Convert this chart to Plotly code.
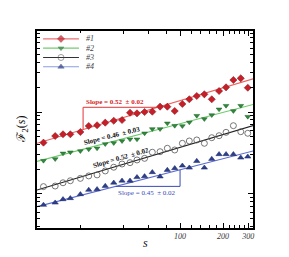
import numpy as np
import plotly.graph_objects as go

# ---------------- data ----------------
s = [11.1, 13.4, 15.2, 17.1, 20.1, 23.0, 26.3, 30.0, 34.4, 39.3, 44.7, 50.0, 56.5,
     64.0, 72.5, 81.5, 91.8, 103.8, 116.1, 130.9, 147.9, 166.6, 187.4, 209.7,
     236.0, 265.7, 297.5]

f_1 = [4.23, 5.09, 5.35, 5.35, 5.70, 6.75, 6.89, 7.41, 7.83, 7.98, 9.79, 9.64, 10.0,
       10.09, 11.61, 11.61, 10.28, 12.53, 14.29, 15.67, 16.44, 14.29, 18.03, 20.0,
       24.55, 25.76, 19.77]
f_2 = [2.55, 2.67, 3.13, 3.23, 3.34, 3.51, 3.61, 4.07, 4.19, 4.43, 4.65, 4.65, 5.50,
       6.21, 6.21, 7.28, 6.81, 6.75, 7.48, 9.02, 8.22, 9.18, 10.79, 11.94,
       10.30, 11.94, 8.77]
f_3 = [1.23, 1.25, 1.37, 1.45, 1.55, 1.66, 1.71, 1.91, 2.12, 2.32, 2.41, 2.60, 2.72,
       3.23, 3.28, 3.61, 3.44, 4.15, 4.43, 4.56, 4.15, 4.86, 5.14, 5.65,
       6.81, 5.75, 5.50]
f_4 = [0.735, 0.783, 0.861, 0.887, 0.991, 1.12, 1.14, 1.25, 1.37, 1.45, 1.45, 1.60, 1.64,
       1.84, 1.63, 1.96, 2.06, 2.21, 2.09, 2.52, 2.09, 2.67, 3.05, 3.05,
       3.05, 2.77, 2.85]

names = ["#1", "#2", "#3", "#4"]
slopes = [0.52, 0.46, 0.52, 0.45]
intercepts = [0.098, -0.063, -0.471, -0.605]   # log10 F at s = 1
slope_text = ["Slope = 0.52  \u00b1 0.02", "Slope = 0.46  \u00b1 0.03",
              "Slope = 0.52  \u00b1 0.02", "Slope = 0.45  \u00b1 0.02"]

x_tickvals = [100, 200, 300]
x_ticktext = ["100", "200", "300"]
x_minor = [20, 40, 60, 80, 120, 140, 160, 180, 220, 240, 260, 280]
y_tickvals = [1, 10]
y_minor = [0.4, 0.5, 0.6, 0.7, 0.8, 0.9, 2, 3, 4, 5, 6, 7, 8, 9,
           20, 30, 40, 50, 60, 70, 80, 90]

# ---------------- styles ----------------
series = [f_1, f_2, f_3, f_4]
line_colors = ["#ef5f5f", "#6acb6a", "#222222", "#5b6bd2"]
legend_line_colors = ["#ef7070", "#70cc70", "#333333", "#8a9ee0"]
marker_styles = [
    dict(symbol="diamond", size=5.5, color="#c81e2a", line=dict(color="#7a1010", width=0.5)),
    dict(symbol="triangle-down", size=5, color="#2f8a3c", line=dict(color="#1c5a24", width=0.5)),
    dict(symbol="circle-open", size=6, color="#555555", line=dict(color="#555555", width=0.8)),
    dict(symbol="triangle-up", size=5.5, color="#2c3e8c", line=dict(color="#1a2660", width=0.5)),
]
serif = "Liberation Serif, Times New Roman, serif"


def fit(i, sv):
    sv = np.asarray(sv, dtype=float)
    return 10 ** (intercepts[i] + slopes[i] * np.log10(sv))


fig = go.Figure()

s_line = np.array([10.0, 330.0])
for i in range(4):
    fig.add_trace(go.Scatter(x=s_line, y=fit(i, s_line), mode="lines",
                             line=dict(color=line_colors[i], width=1.1),
                             showlegend=False, hoverinfo="skip"))
for i in range(4):
    fig.add_trace(go.Scatter(x=s, y=series[i], mode="markers", marker=marker_styles[i],
                             name=names[i], showlegend=False))

# slope brackets (anchored on the fitted lines)
sa, sb = 21.0, 70.0
fig.add_trace(go.Scatter(x=[sb, sa, sa], y=[fit(0, sb), fit(0, sb), fit(0, sa)],
                         mode="lines", line=dict(color="#e03535", width=1),
                         showlegend=False, hoverinfo="skip"))
ba, bb = 35.5, 100.0
fig.add_trace(go.Scatter(x=[ba, bb, bb], y=[fit(3, ba), fit(3, ba), fit(3, bb)],
                         mode="lines", line=dict(color="#3a4ab8", width=1),
                         showlegend=False, hoverinfo="skip"))

ann_font = dict(family=serif, size=7, weight="bold")
annotations = [
    dict(x=np.log10(sa), y=np.log10(fit(0, sb)), xref="x", yref="y", text=slope_text[0],
         xanchor="left", yanchor="bottom", xshift=1, yshift=-1, showarrow=False,
         font=dict(ann_font, color="#d42525")),
    dict(x=np.log10(33.4), y=np.log10(fit(1, 33.4)), xref="x", yref="y", text=slope_text[1],
         xanchor="center", yanchor="middle", yshift=6, textangle=-14, showarrow=False,
         font=dict(ann_font, color="#111111")),
    dict(x=np.log10(38.6), y=np.log10(fit(2, 38.6)), xref="x", yref="y", text=slope_text[2],
         xanchor="center", yanchor="middle", yshift=7, textangle=-16, showarrow=False,
         font=dict(ann_font, color="#111111")),
    dict(x=np.log10(bb), y=np.log10(fit(3, ba)), xref="x", yref="y", text=slope_text[3],
         xanchor="right", yanchor="top", xshift=-3, yshift=-1, showarrow=False,
         font=dict(family=serif, size=7, color="#3a4ab8")),
    dict(x=0.5, y=-0.076, xref="paper", yref="paper", text="<i>s</i>", showarrow=False,
         xanchor="center", yanchor="middle",
         font=dict(family=serif, size=12, color="#111111")),
    dict(x=-0.07, y=0.5, xref="paper", yref="paper", text="\u2131<sub>2</sub>(<i>s</i>)",
         showarrow=False, textangle=-90, xanchor="center", yanchor="middle",
         font=dict(family=serif, size=12, color="#111111")),
]

# legend drawn in a small overlay axis box (top-left of the plot)
for i in range(4):
    row = i + 1
    ms = dict(marker_styles[i])
    fig.add_trace(go.Scatter(x=[0, 0.5, 1], y=[row, row, row], mode="lines+markers",
                             line=dict(color=legend_line_colors[i], width=1.1),
                             marker=dict(ms, size=[0, ms["size"], 0]),
                             xaxis="x2", yaxis="y2", showlegend=False, hoverinfo="skip"))
    annotations.append(dict(x=1.14, y=row, xref="x2", yref="y2", text="<i>" + names[i] + "</i>",
                            xanchor="left", yanchor="middle", showarrow=False,
                            font=dict(family=serif, size=8, color="#444444")))

axis_common = dict(showgrid=False, zeroline=False, showline=True, linecolor="black",
                   linewidth=1.5, mirror="allticks", ticks="inside", tickcolor="black",
                   ticklen=5, tickwidth=1)

fig.update_layout(
    width=289, height=257,
    margin=dict(l=37, r=36, t=31, b=29),
    paper_bgcolor="white", plot_bgcolor="white",
    showlegend=False,
    xaxis=dict(axis_common, type="log", range=[1.0, 2.51],
               tickvals=x_tickvals, ticktext=x_ticktext,
               tickfont=dict(family=serif, size=8, color="#333333", style="italic"),
               minor=dict(ticks="inside", ticklen=3, tickcolor="black", tickvals=x_minor)),
    yaxis=dict(axis_common, type="log", range=[-0.415, 1.988],
               tickvals=y_tickvals, showticklabels=False,
               minor=dict(ticks="inside", ticklen=3, tickcolor="black", tickvals=y_minor)),
    xaxis2=dict(domain=[0.028, 0.268], range=[0, 1.444], visible=False, anchor="y2"),
    yaxis2=dict(domain=[0.79, 0.99], range=[4.6, 0.37], visible=False, anchor="x2"),
    annotations=annotations,
)

fig.write_html("out.html", config={"displayModeBar": False},
               post_script="document.body.style.margin='0';")
